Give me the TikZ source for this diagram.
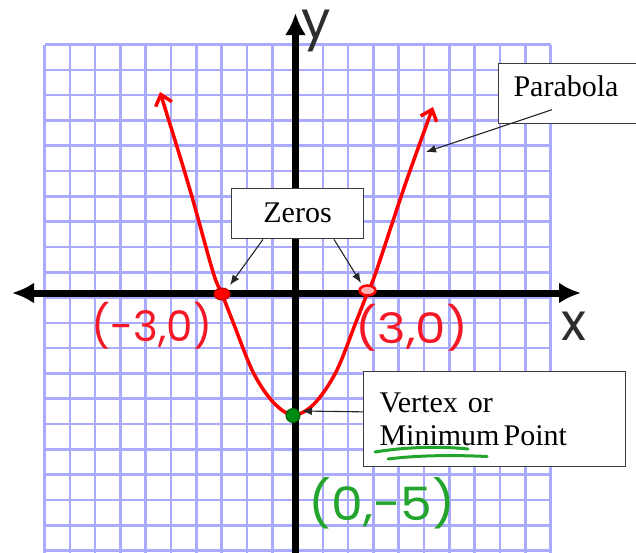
\documentclass[tikz,border=0pt]{standalone}
\usepackage{fontspec}
\usepackage{graphicx}
\setmainfont{Liberation Serif}
\newfontfamily\handfont{Poppins}
\usetikzlibrary{arrows.meta,shapes.geometric}
\definecolor{gridblue}{RGB}{170,170,255}
\definecolor{curvered}{RGB}{255,0,0}
\definecolor{labelred}{RGB}{245,25,40}
\definecolor{labelgreen}{RGB}{35,165,45}
\definecolor{dotgreen}{RGB}{0,140,20}
\definecolor{handgray}{RGB}{45,45,45}
\definecolor{boxline}{RGB}{60,60,60}
\tikzset{
  axistip/.tip={Latex[length=22pt,width=21pt]},
  curvetip/.tip={Straight Barb[length=10pt,width=17pt]}
}
\begin{document}
\begin{tikzpicture}[x=1pt,y=-1pt,
  gridline/.style={draw=gridblue, line width=2.6pt},
  axisline/.style={draw=black, line width=7pt},
  callout/.style={draw=boxline, line width=1.1pt, fill=white, inner ysep=0pt,
    font=\fontsize{30}{33.3}\selectfont},
  pointer/.style={draw=black!85, line width=1.1pt, -{Latex[length=10pt,width=8pt]}},
  handred/.style={text=labelred, inner sep=0pt, font=\handfont\fontsize{42}{42}\selectfont},
  handgreen/.style={text=labelgreen, inner sep=0pt, font=\handfont\fontsize{46}{46}\selectfont},
  handaxis/.style={text=handgray, inner sep=0pt, font=\handfont\fontsize{52}{52}\selectfont},
  underl/.style={draw=labelgreen, line width=3pt, line cap=round}
]
\useasboundingbox (0,0) rectangle (636,552);
\clip (0,0) rectangle (636,552);
\fill[white] (0,0) rectangle (636,552);

% grid
\foreach \k in {0,...,20} {
  \draw[gridline] ({44.5+25.3*\k},44.5) -- ({44.5+25.3*\k},560);
  \draw[gridline] (44.5,{44.5+25.3*\k}) -- (550.5,{44.5+25.3*\k});
}

% axes
\coordinate (xl) at (12,293);
\coordinate (xr) at (581,293);
\coordinate (yt) at (295.5,13);
\coordinate (yb) at (295.5,560);
\draw[axisline, axistip-axistip] (xl) -- (xr);
\draw[axisline, -axistip] (yb) -- (yt);

% parabola
\draw[curvered, line width=3.5pt, curvetip-curvetip]
  plot[smooth, tension=0.55] coordinates {
    (160,92) (190,190) (213,272) (222,294) (233,322) (253,372) (273,402) (293,415)
    (314,404) (336,372) (356,322) (367,294) (376,272) (405,185) (433,107)};

% points
\node[ellipse, fill=red, draw=red!75!black, line width=1pt, minimum width=16pt, minimum height=12pt, inner sep=0pt] (zl) at (222,294) {};
\node[ellipse, fill=red!30, draw=red, line width=2.5pt, minimum width=16pt, minimum height=10pt, inner sep=0pt] (zr) at (367.5,290.5) {};
\node[circle, fill=dotgreen, draw=green!35!black, line width=1pt, minimum size=14pt, inner sep=0pt] (vx) at (293,415.5) {};

% callouts
\node[callout, anchor=north west, minimum width=132pt, text height=33.4pt, text depth=16.6pt] (zeros) at (231,188.3) {Zeros};
\node[callout, anchor=north west, inner xsep=15pt, text width=140pt, align=left, text height=33.7pt, text depth=26.3pt] (parab) at (498,62.7) {Parabola};
\node[callout, anchor=north west, inner xsep=16pt, text width=230pt, align=left, minimum height=95pt] (vertex) at (363,371.3) {Vertex or\\Minimum\hspace{4pt}Point};

% pointers
\coordinate (zltip) at (230,285);
\coordinate (zrtip) at (361,283);
\coordinate (ptip) at (426,152);
\coordinate (vtip) at (302,411);
\draw[pointer] ([xshift=32pt]zeros.south west) -- (zltip);
\draw[pointer] ([xshift=103pt]zeros.south west) -- (zrtip);
\draw[pointer] ([xshift=54pt,yshift=-47pt]parab.north west) -- (ptip);
\draw[pointer] ([yshift=7.5pt]vertex.west) -- (vtip);

% green underline
\draw[underl] (375,452) .. controls (405,447) and (440,446) .. (468,449);
\draw[underl] (388,459) .. controls (420,455) and (455,455) .. (487,456.5);

% handwritten labels
\node[handred] (lm3) at (152,326) {(-3,0)};
\node[handred] (l3) at (412,328) {\scalebox{1.15}[1]{(3,0)}};
\node[handgreen] (l05) at (382,503) {\scalebox{1.1}[1]{(0,-5)}};
\node[handaxis] (ylab) at (316,31) {y};
\node[handaxis] (xlab) at (574,326) {x};
\end{tikzpicture}
\end{document}
